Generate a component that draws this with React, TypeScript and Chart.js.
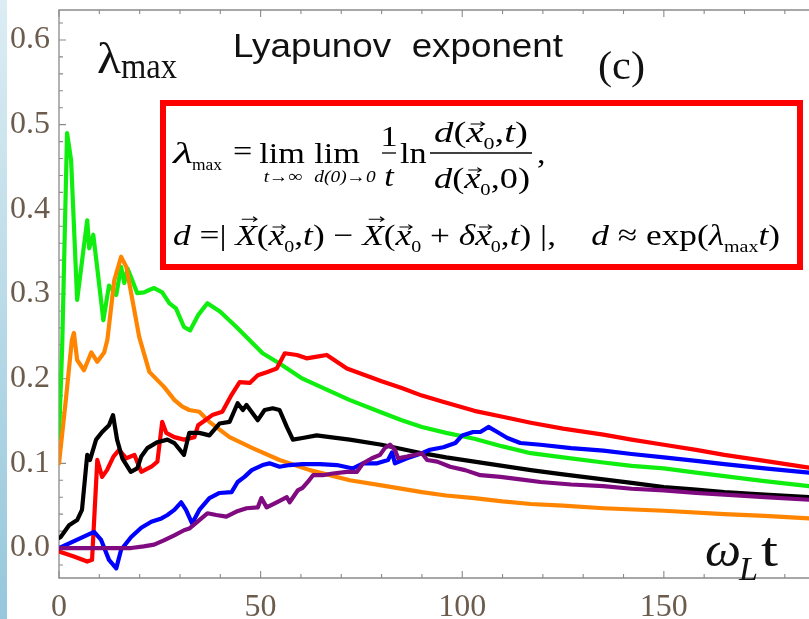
import { useEffect, useRef } from "react";
import { Chart, registerables } from "chart.js";

Chart.register(...registerables);

const SERIF = '"Liberation Serif", "DejaVu Serif", serif';
const SANS = '"Liberation Sans", Arial, sans-serif';

// Axis ticks
const xTickValues = [0, 50, 100, 150];
const yTickValues = [0, 0.1, 0.2, 0.3, 0.4, 0.5, 0.6];

// Largest Lyapunov exponent versus ωL·t, one pair of arrays per run
const greenT = [0, 0.8, 2, 3, 4.5, 6, 7, 7.5, 8.5, 9.5, 11, 12.4, 14.2, 15.4, 16.2, 17, 18.2, 19.4, 21.1, 22.5, 23.6, 25.6, 27.4, 29, 31, 32.5, 34.5, 36.8, 40, 44, 50.5, 54.7, 60.4, 66.4, 72, 80, 85, 90, 96, 103, 110, 117, 125, 135, 142, 150, 158, 165, 175, 186];
const greenL = [0.13, 0.24, 0.49, 0.458, 0.293, 0.35, 0.387, 0.354, 0.37, 0.33, 0.269, 0.31, 0.299, 0.332, 0.313, 0.33, 0.316, 0.301, 0.302, 0.305, 0.307, 0.302, 0.289, 0.283, 0.261, 0.257, 0.275, 0.289, 0.279, 0.261, 0.23, 0.218, 0.2, 0.187, 0.175, 0.16, 0.151, 0.143, 0.136, 0.129, 0.12, 0.112, 0.107, 0.101, 0.097, 0.094, 0.089, 0.085, 0.079, 0.073];

const orangeT = [0, 1.7, 3.2, 3.7, 4.5, 6.2, 8, 9.5, 11.2, 12, 13.7, 15.4, 16.7, 18.2, 19.9, 22.4, 26.1, 28.6, 30.6, 32.3, 34.8, 37.3, 42.3, 48, 54.7, 62.2, 72.1, 80, 90, 96, 103, 110, 117, 125, 135, 150, 165, 175, 186];
const orangeL = [0.1, 0.175, 0.246, 0.254, 0.222, 0.21, 0.231, 0.22, 0.231, 0.246, 0.316, 0.344, 0.332, 0.293, 0.249, 0.208, 0.19, 0.175, 0.167, 0.163, 0.161, 0.149, 0.131, 0.118, 0.104, 0.092, 0.08, 0.074, 0.066, 0.062, 0.059, 0.055, 0.052, 0.05, 0.047, 0.044, 0.04, 0.038, 0.035];

const redT = [0, 3.7, 7, 8.2, 9.5, 10.7, 11.9, 13.5, 14.9, 16.7, 18.7, 20.4, 22.9, 24.4, 25.6, 26.6, 28.6, 31, 33.6, 34.5, 36, 38, 40.5, 42.8, 44.8, 47.3, 49.3, 51.7, 54, 56, 59, 61.4, 64, 66.4, 68.9, 71.4, 80, 85, 90, 95, 103, 110, 117, 125, 135, 142, 150, 158, 165, 175, 186];
const redL = [-0.004, -0.01, -0.016, -0.014, 0.104, 0.084, 0.092, 0.108, 0.116, 0.106, 0.11, 0.09, 0.096, 0.102, 0.149, 0.136, 0.131, 0.128, 0.131, 0.145, 0.15, 0.157, 0.161, 0.181, 0.196, 0.195, 0.204, 0.208, 0.212, 0.23, 0.228, 0.224, 0.226, 0.228, 0.22, 0.212, 0.197, 0.189, 0.18, 0.173, 0.162, 0.155, 0.148, 0.141, 0.134, 0.128, 0.122, 0.116, 0.11, 0.103, 0.095];

const blackT = [0, 0.4, 2.5, 4.5, 5.7, 7, 7.7, 9.2, 10.7, 12.4, 13.4, 14.4, 15.7, 17.8, 19.4, 20.4, 21.9, 24.4, 26.9, 28.6, 31, 32.3, 34.8, 37.3, 39.8, 42.3, 44.3, 45.6, 46.5, 49.3, 51, 53, 54.7, 56.5, 58, 60.4, 63.9, 67.2, 72.1, 80, 85, 90, 96, 103, 110, 117, 125, 135, 142, 150, 158, 165, 175, 186];
const blackL = [0.012, 0.013, 0.027, 0.033, 0.045, 0.11, 0.104, 0.128, 0.137, 0.145, 0.157, 0.128, 0.106, 0.09, 0.094, 0.108, 0.118, 0.125, 0.128, 0.124, 0.11, 0.136, 0.136, 0.133, 0.147, 0.149, 0.171, 0.163, 0.169, 0.151, 0.163, 0.165, 0.163, 0.143, 0.128, 0.13, 0.133, 0.131, 0.128, 0.122, 0.117, 0.112, 0.107, 0.102, 0.097, 0.092, 0.087, 0.081, 0.077, 0.072, 0.069, 0.066, 0.063, 0.06];

const blueT = [0, 8.7, 10.4, 12.4, 14.2, 15.4, 17.9, 20.4, 22.9, 25.4, 26.9, 28.6, 30.3, 31.5, 33, 34.8, 37.3, 39.8, 42.8, 44.3, 46, 47.8, 50.5, 52.2, 54.7, 57.2, 60.4, 64.7, 68.9, 72.9, 75.4, 78.9, 81.6, 82.6, 83.3, 86.3, 90, 92, 95.3, 98.3, 100, 102.7, 104.5, 106.5, 108.7, 111.2, 114.4, 119.4, 127, 135, 142, 150, 158, 165, 175, 186];
const blueL = [0, 0.019, 0.01, -0.014, -0.024, -0.002, 0.013, 0.024, 0.031, 0.035, 0.039, 0.045, 0.054, 0.045, 0.029, 0.045, 0.059, 0.065, 0.066, 0.078, 0.084, 0.092, 0.098, 0.1, 0.096, 0.098, 0.099, 0.099, 0.098, 0.094, 0.1, 0.1, 0.104, 0.113, 0.1, 0.106, 0.112, 0.116, 0.119, 0.124, 0.133, 0.137, 0.137, 0.143, 0.137, 0.13, 0.124, 0.122, 0.118, 0.115, 0.111, 0.107, 0.103, 0.099, 0.094, 0.089];

const purpleT = [0, 10, 17.9, 21, 23.6, 26, 28.6, 31, 32.3, 34.8, 36.8, 39, 41.5, 44, 46.5, 49.3, 50.2, 51.5, 54, 56.5, 57.2, 59.2, 60.4, 61.7, 63, 65.4, 67.9, 71.4, 73.9, 75.4, 77.6, 79.6, 80.8, 82.1, 83.3, 84.1, 86.3, 90, 91.3, 93.8, 97, 100.7, 104.5, 109.5, 114.4, 119.4, 127, 135, 142, 150, 158, 165, 175, 186];
const purpleL = [0, 0, 0, 0.002, 0.004, 0.009, 0.015, 0.021, 0.023, 0.033, 0.041, 0.039, 0.037, 0.043, 0.047, 0.048, 0.059, 0.048, 0.054, 0.06, 0.054, 0.068, 0.071, 0.078, 0.086, 0.086, 0.088, 0.09, 0.09, 0.1, 0.106, 0.11, 0.118, 0.122, 0.116, 0.106, 0.108, 0.112, 0.104, 0.102, 0.096, 0.092, 0.086, 0.084, 0.081, 0.078, 0.075, 0.073, 0.07, 0.068, 0.065, 0.063, 0.06, 0.057];

const seriesList = [
  { t: purpleT, v: purpleL, color: "#800a80" },
  { t: blueT, v: blueL, color: "#0000ff" },
  { t: blackT, v: blackL, color: "#000000" },
  { t: redT, v: redL, color: "#ff0000" },
  { t: orangeT, v: orangeL, color: "#ff8500" },
  { t: greenT, v: greenL, color: "#10ee10" },
];

const TICK_COLOR = "#6b5c4e";
const F = 30; // formula font size
const SXF = 1.14; // horizontal stretch of formula glyphs

type Seg = { s: string; f: string; dy?: number; vec?: "lo" | "cap"; dx?: number };

const it = (n: number) => `italic ${n}px ${SERIF}`;
const rm = (n: number) => `${n}px ${SERIF}`;

function fitText(ctx: CanvasRenderingContext2D, s: string, x: number, y: number, font: string, width?: number, align: "left" | "center" = "left") {
  ctx.save();
  ctx.font = font;
  ctx.textBaseline = "alphabetic";
  const w = ctx.measureText(s).width;
  const sx = width ? width / w : SXF;
  const x0 = align === "center" ? x - (w * sx) / 2 : x;
  ctx.translate(x0, y);
  ctx.scale(sx, 1);
  ctx.fillText(s, 0, 0);
  ctx.restore();
}

function drawVec(ctx: CanvasRenderingContext2D, x0: number, w: number, kind: "lo" | "cap") {
  const y = kind === "cap" ? -0.86 * F : -0.6 * F;
  const a = x0 + w * (kind === "cap" ? 0.3 : 0.25);
  const b = x0 + w * (kind === "cap" ? 1.0 : 1.05);
  ctx.save();
  ctx.lineWidth = 1.1;
  ctx.beginPath();
  ctx.moveTo(a, y);
  ctx.lineTo(b, y);
  ctx.moveTo(b - 3.2, y - 2.4);
  ctx.lineTo(b, y);
  ctx.lineTo(b - 3.2, y + 2.4);
  ctx.stroke();
  ctx.restore();
}

function runWidth(ctx: CanvasRenderingContext2D, segs: Seg[]) {
  let w = 0;
  for (const g of segs) {
    ctx.font = g.f;
    w += ctx.measureText(g.s).width + (g.dx || 0);
  }
  return w;
}

function drawRun(ctx: CanvasRenderingContext2D, segs: Seg[], x: number, y: number, sx: number) {
  ctx.save();
  ctx.translate(x, y);
  ctx.scale(sx, 1);
  let cx = 0;
  for (const g of segs) {
    ctx.font = g.f;
    const w = ctx.measureText(g.s).width;
    ctx.fillText(g.s, cx, g.dy || 0);
    if (g.vec) drawVec(ctx, cx, w, g.vec);
    cx += w + (g.dx || 0);
  }
  ctx.restore();
}

const SUB = rm(17);

function vecX0(): Seg[] {
  return [
    { s: "x", f: it(F), vec: "lo" },
    { s: "0", f: SUB, dy: 7 },
  ];
}

function drawFormula(ctx: CanvasRenderingContext2D) {
  ctx.save();
  ctx.fillStyle = "#ffffff";
  ctx.fillRect(160, 100, 643, 170);
  ctx.strokeStyle = "#ff0000";
  ctx.lineWidth = 6;
  ctx.strokeRect(163, 103, 637, 164);

  ctx.fillStyle = "#000";
  ctx.strokeStyle = "#000";
  const L1 = 163;

  // λ_max =
  fitText(ctx, "λ", 173, L1, it(F), 20);
  fitText(ctx, "max", 192, L1 + 7, SUB, 30);
  fitText(ctx, "=", 233, L1 - 2, rm(F));
  // lim lim
  fitText(ctx, "lim", 282, L1, rm(F), undefined, "center");
  fitText(ctx, "t→∞", 283, 182, it(17), undefined, "center");
  fitText(ctx, "lim", 337, L1, rm(F), undefined, "center");
  fitText(ctx, "d(0)→0", 345, 182, it(17), undefined, "center");
  // 1/t
  fitText(ctx, "1", 389, 146, rm(F), undefined, "center");
  fitText(ctx, "t", 389, 186, it(F), undefined, "center");
  ctx.lineWidth = 1.3;
  ctx.beginPath();
  ctx.moveTo(382, 153);
  ctx.lineTo(396, 153);
  ctx.stroke();
  fitText(ctx, "ln", 400, L1, rm(F));
  // d(x0,t) / d(x0,0)
  const num: Seg[] = [
    { s: "d", f: it(F) },
    { s: "(", f: rm(F) },
    ...vecX0(),
    { s: ",", f: rm(F) },
    { s: "t", f: it(F) },
    { s: ")", f: rm(F) },
  ];
  const den: Seg[] = [
    { s: "d", f: it(F) },
    { s: "(", f: rm(F) },
    ...vecX0(),
    { s: ",0)", f: rm(F) },
  ];
  drawRun(ctx, num, 434, 142, 94 / runWidth(ctx, num));
  drawRun(ctx, den, 434, 188, 96 / runWidth(ctx, den));
  ctx.lineWidth = 1.3;
  ctx.beginPath();
  ctx.moveTo(430, 153);
  ctx.lineTo(532, 153);
  ctx.stroke();
  fitText(ctx, ",", 537, L1, rm(F));

  // second line
  const line2: Seg[] = [
    { s: "d", f: it(F) },
    { s: " =", f: rm(F) },
    { s: "| ", f: rm(F) },
    { s: "X", f: it(F), vec: "cap" },
    { s: "(", f: rm(F) },
    ...vecX0(),
    { s: ",", f: rm(F) },
    { s: "t", f: it(F) },
    { s: ") − ", f: rm(F) },
    { s: "X", f: it(F), vec: "cap" },
    { s: "(", f: rm(F) },
    ...vecX0(),
    { s: " + ", f: rm(F) },
    { s: "δ", f: it(F) },
    ...vecX0(),
    { s: ",", f: rm(F) },
    { s: "t", f: it(F) },
    { s: ") |,", f: rm(F) },
    { s: "    ", f: rm(F) },
    { s: "d", f: it(F) },
    { s: " ≈ exp(", f: rm(F) },
    { s: "λ", f: it(F) },
    { s: "max", f: SUB, dy: 7 },
    { s: "t", f: it(F) },
    { s: ")", f: rm(F) },
  ];
  drawRun(ctx, line2, 173, 245, 607 / runWidth(ctx, line2));
  ctx.restore();
}

const framePlugin = {
  id: "frame",
  beforeDatasetsDraw(chart: any) {
    const { ctx, chartArea: a, scales } = chart;
    const xs = scales.x;
    const ys = scales.y;
    ctx.save();
    ctx.strokeStyle = "#8a8a8a";
    ctx.lineWidth = 1.3;
    ctx.beginPath();
    ctx.moveTo(a.right + 2, a.top);
    ctx.lineTo(a.left, a.top);
    ctx.lineTo(a.left, a.bottom);
    ctx.lineTo(a.right + 2, a.bottom);
    ctx.stroke();
    ctx.lineWidth = 1.1;
    ctx.beginPath();
    for (let v = 0; v <= 180; v += 10) {
      const px = xs.getPixelForValue(v);
      const len = v % 50 === 0 ? 7 : 4;
      ctx.moveTo(px, a.bottom);
      ctx.lineTo(px, a.bottom - len);
      ctx.moveTo(px, a.top);
      ctx.lineTo(px, a.top + len);
    }
    for (let k = -1; k <= 31; k++) {
      const v = k * 0.02;
      const py = ys.getPixelForValue(v);
      if (py < a.top || py > a.bottom) continue;
      const len = k % 5 === 0 ? 7 : 4;
      ctx.moveTo(a.left, py);
      ctx.lineTo(a.left + len, py);
    }
    ctx.stroke();
    ctx.restore();
  },
};

const textPlugin = {
  id: "texts",
  afterDatasetsDraw(chart: any) {
    const ctx: CanvasRenderingContext2D = chart.ctx;
    ctx.save();
    ctx.fillStyle = "#111";
    fitText(ctx, "λ", 97, 73, rm(44), 24);
    fitText(ctx, "max", 121, 78, rm(36), 56);
    fitText(ctx, "Lyapunov  exponent", 233, 57, `${33}px ${SANS}`, 330);
    fitText(ctx, "(c)", 598, 79, rm(40), 47);
    fitText(ctx, "ω", 705, 566, it(48), 36);
    fitText(ctx, "L", 739, 580, it(34), 19);
    fitText(ctx, "t", 761, 566, rm(48), 17);
    drawFormula(ctx);
    ctx.restore();
  },
};

export default function App() {
  const ref = useRef<HTMLCanvasElement | null>(null);

  useEffect(() => {
    const canvas = ref.current;
    if (!canvas) return;
    const chart = new Chart(canvas, {
      type: "line",
      data: {
        datasets: seriesList.map((s) => ({
          data: s.t.map((t, i) => ({ x: t, y: s.v[i] })),
          borderColor: s.color,
          backgroundColor: s.color,
          borderWidth: 4.2,
          pointRadius: 0,
          tension: 0,
          fill: false,
          borderJoinStyle: "round" as const,
          borderCapStyle: "round" as const,
        })),
      },
      options: {
        animation: false,
        responsive: false,
        maintainAspectRatio: false,
        layout: { padding: { top: 10, right: 0, left: 0, bottom: 0 } },
        plugins: { legend: { display: false }, tooltip: { enabled: false } },
        scales: {
          x: {
            type: "linear",
            min: 0,
            max: 186,
            grid: { display: false, drawTicks: false },
            border: { display: false },
            ticks: {
              autoSkip: false,
              maxRotation: 0,
              padding: 10,
              color: TICK_COLOR,
              font: { family: SERIF, size: 32 },
              callback: (v: any) => String(v),
            },
            afterBuildTicks: (s: any) => {
              s.ticks = xTickValues.map((v) => ({ value: v }));
            },
            afterFit: (s: any) => {
              s.height = 41;
              s.paddingLeft = 0;
              s.paddingRight = 0;
            },
          },
          y: {
            type: "linear",
            min: -0.0354,
            max: 0.6354,
            grid: { display: false, drawTicks: false },
            border: { display: false },
            ticks: {
              autoSkip: false,
              padding: 9,
              color: TICK_COLOR,
              font: { family: SERIF, size: 32 },
              callback: (v: any) => Number(v).toFixed(1),
            },
            afterBuildTicks: (s: any) => {
              s.ticks = yTickValues.map((v) => ({ value: v }));
            },
            afterFit: (s: any) => {
              s.width = 59;
              s.paddingTop = 0;
              s.paddingBottom = 0;
            },
          },
        },
      },
      plugins: [framePlugin, textPlugin],
    });
    return () => chart.destroy();
  }, []);

  return (
    <div style={{ position: "absolute", left: 0, top: 0, width: 809, height: 619, background: "#fff", overflow: "hidden" }}>
      <div
        style={{
          position: "absolute",
          left: 0,
          top: 0,
          width: 7,
          height: 619,
          background: "linear-gradient(to bottom, #dcedf3, #96c7dc)",
        }}
      />
      <canvas ref={ref} width={809} height={619} style={{ position: "absolute", left: 0, top: 0, display: "block" }} />
    </div>
  );
}
